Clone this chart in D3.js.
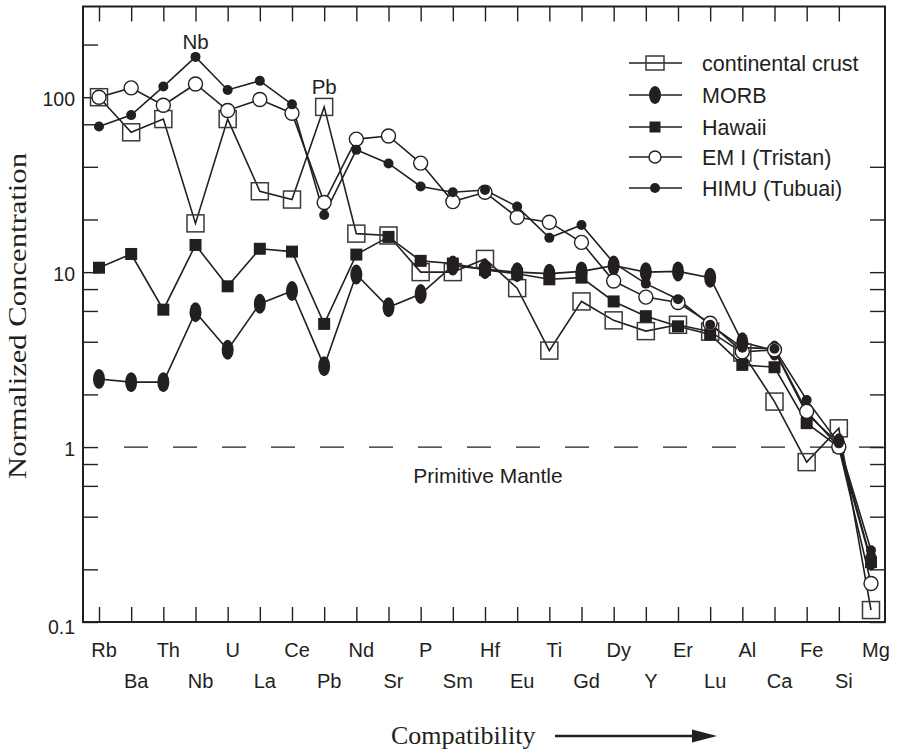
<!DOCTYPE html>
<html>
<head>
<meta charset="utf-8">
<script src="https://cdn.jsdelivr.net/npm/d3@7"></script>
<style>
  html, body { margin: 0; padding: 0; background: #fff; }
  svg { display: block; }
  text { fill: #231f20; }
</style>
</head>
<body>
<div id="chart"></div>
<script>
// ---------- data ----------
const elements = ["Rb","Ba","Th","Nb","U","La","Ce","Pb","Nd","Sr","P","Sm","Hf","Eu","Ti","Gd","Dy","Y","Er","Lu","Al","Ca","Fe","Si","Mg"];

const continentalCrust = [100, 63, 75, 19, 75, 29, 26, 88, 16.6, 16.2, 10, 10, 11.9, 8.1, 3.56, 6.8, 5.3, 4.6, 5.0, 4.57, 3.47, 1.82, 0.82, 1.28, 0.117];
const morb            = [2.45, 2.35, 2.35, 5.9, 3.6, 6.6, 7.8, 2.9, 9.7, 6.3, 7.5, 10.9, 10.4, 10.0, 9.8, 10.1, 10.9, 10.0, 10.1, 9.3, 3.97, 3.56, 1.55, 1.05, 0.225];
const hawaii          = [10.6, 12.7, 6.1, 14.3, 8.3, 13.6, 13.1, 5.06, 12.6, 15.9, 11.6, 11.2, 10.3, 9.8, 9.1, 9.3, 6.8, 5.6, 4.9, 4.4, 2.95, 2.86, 1.37, 1.0, 0.22];
const emI             = [100, 113, 90, 119, 84, 97, 81, 25, 57.6, 60, 42, 25.3, 28.6, 20.6, 19.3, 14.8, 8.9, 7.2, 6.7, 5.1, 3.5, 3.6, 1.6, 1.0, 0.166];
const himu            = [68, 79, 115, 170, 110, 124, 91, 21.2, 50, 41.8, 30.9, 28.6, 29.5, 23.7, 15.7, 18.6, 11.3, 8.6, 7.0, 5.0, 3.7, 3.65, 1.86, 1.05, 0.257];

const seriesNames = ["continental crust", "MORB", "Hawaii", "EM I (Tristan)", "HIMU (Tubuai)"];
const seriesValues = [continentalCrust, morb, hawaii, emI, himu];
const seriesMarkers = ["square", "ellipse", "filledSquare", "openCircle", "dot"];

const yMajorTicks = [0.1, 1, 10, 100];
const yMinorTicksLeft = [0.2, 0.4, 0.6, 0.8, 2, 4, 6, 8, 20, 40, 70, 200];
const yMinorTicksRight = [0.2, 0.4, 0.6, 0.8, 2, 4, 6, 8, 20, 40];
const yTickLabels = ["0.1", "1", "10", "100"];

// ---------- layout ----------
const W = 903, H = 754;
const pLeft = 83, pRight = 885, pTop = 6.5, pBottom = 622;
const ink = "#231f20";
const sans = "'Liberation Sans', Arial, Helvetica, sans-serif";
const serif = "'Liberation Serif', 'Times New Roman', serif";

const svg = d3.select("#chart").append("svg").attr("width", W).attr("height", H);

const x = d3.scalePoint().domain(elements).range([99, 871]);
const y = d3.scaleLog().domain([0.1, 330]).range([pBottom, pTop]);

// dashed primitive mantle line
svg.append("line")
  .attr("x1", pLeft + 41).attr("x2", pRight + 4)
  .attr("y1", y(1)).attr("y2", y(1))
  .attr("stroke", ink).attr("stroke-width", 1.3)
  .attr("stroke-dasharray", "24,25");

// axes (ticks inward)
const tickEls = elements.slice(0, 24);
function clean(g) { g.select(".domain").remove(); g.selectAll(".tick line").attr("stroke", ink).attr("stroke-width", 1.4); g.selectAll(".tick text").remove(); }

svg.append("g").attr("transform", `translate(0,${pBottom})`)
  .call(d3.axisBottom(x).tickValues(tickEls).tickSize(-15).tickFormat(""))
  .call(clean);
svg.append("g").attr("transform", `translate(0,${pTop})`)
  .call(d3.axisTop(x).tickValues(tickEls).tickSize(-15).tickFormat(""))
  .call(clean);
svg.append("g").attr("transform", `translate(${pLeft},0)`)
  .call(d3.axisLeft(y).tickValues(yMajorTicks.concat(yMinorTicksLeft)).tickSize(-15).tickFormat(""))
  .call(clean);
svg.append("g").attr("transform", `translate(${pRight},0)`)
  .call(d3.axisRight(y).tickValues(yMajorTicks.slice(0, 3).concat(yMinorTicksRight)).tickSize(-15).tickFormat(""))
  .call(clean);

// frame
svg.append("rect")
  .attr("x", pLeft).attr("y", pTop)
  .attr("width", pRight - pLeft).attr("height", pBottom - pTop)
  .attr("fill", "none").attr("stroke", ink).attr("stroke-width", 2);

// y tick labels
svg.append("g").selectAll("text").data(yMajorTicks).join("text")
  .attr("x", pLeft - 8)
  .attr("y", (d) => y(d) + (d === 0.1 ? 5 : 2))
  .attr("dy", "0.35em")
  .attr("text-anchor", "end")
  .attr("font-family", sans).attr("font-size", 19.5)
  .text((d, i) => yTickLabels[i]);

// x tick labels (two staggered rows)
svg.append("g").selectAll("text").data(elements).join("text")
  .attr("x", (d) => x(d) + 5)
  .attr("y", (d, i) => i % 2 === 0 ? 657 : 688)
  .attr("text-anchor", "middle")
  .attr("font-family", sans).attr("font-size", 20)
  .text((d) => d);

// axis titles
svg.append("text")
  .attr("transform", `translate(26,316) rotate(-90)`)
  .attr("text-anchor", "middle")
  .attr("font-family", serif).attr("font-size", 26)
  .attr("textLength", 326).attr("lengthAdjust", "spacingAndGlyphs")
  .text("Normalized Concentration");

svg.append("text")
  .attr("x", 391).attr("y", 744)
  .attr("font-family", serif).attr("font-size", 26)
  .text("Compatibility");
svg.append("line")
  .attr("x1", 555).attr("x2", 697).attr("y1", 736).attr("y2", 736)
  .attr("stroke", ink).attr("stroke-width", 2.6);
svg.append("path")
  .attr("d", "M717,736 L692,729.5 L692,742.5 Z")
  .attr("fill", ink);

// ---------- series ----------
const line = d3.line().x((d) => x(d.el)).y((d) => y(d.v));
const data = seriesValues.map((vals, s) => vals.map((v, i) => ({ el: elements[i], v, s })));

const gLines = svg.append("g");
data.forEach((pts) => {
  gLines.append("path").attr("d", line(pts))
    .attr("fill", "none").attr("stroke", ink).attr("stroke-width", 1.6)
    .attr("stroke-linejoin", "miter");
});

function drawMarker(g, type, cx, cy, legend) {
  if (type === "square") {
    const w = legend ? 18 : 17, h = legend ? 14 : 17;
    g.append("rect").attr("x", cx - w / 2).attr("y", cy - h / 2).attr("width", w).attr("height", h)
      .attr("fill", "none").attr("stroke", "#3a3a3a").attr("stroke-width", 1.5);
  } else if (type === "ellipse") {
    g.append("ellipse").attr("cx", cx).attr("cy", cy).attr("rx", 6).attr("ry", legend ? 9 : 10).attr("fill", ink);
  } else if (type === "filledSquare") {
    const s = legend ? 11 : 12;
    g.append("rect").attr("x", cx - s / 2).attr("y", cy - s / 2).attr("width", s).attr("height", s).attr("fill", ink);
  } else if (type === "openCircle") {
    g.append("circle").attr("cx", cx).attr("cy", cy).attr("r", legend ? 6 : 7)
      .attr("fill", "#fff").attr("stroke", ink).attr("stroke-width", 1.4);
  } else if (type === "dot") {
    g.append("circle").attr("cx", cx).attr("cy", cy).attr("r", 5).attr("fill", ink);
  }
}

const gMarks = svg.append("g");
data.forEach((pts, s) => {
  pts.forEach((p) => drawMarker(gMarks, seriesMarkers[s], x(p.el), y(p.v), false));
});

// annotations
svg.append("text").attr("x", x("Nb")).attr("y", y(170) - 8)
  .attr("text-anchor", "middle").attr("font-family", sans).attr("font-size", 20.5).text("Nb");
svg.append("text").attr("x", x("Pb")).attr("y", y(88) - 13)
  .attr("text-anchor", "middle").attr("font-family", sans).attr("font-size", 20.5).text("Pb");
svg.append("text").attr("x", 488).attr("y", y(1) + 36)
  .attr("text-anchor", "middle").attr("font-family", sans).attr("font-size", 21).text("Primitive Mantle");

// legend
const legY = [63, 95, 127, 157, 188];
const gLeg = svg.append("g");
seriesNames.forEach((name, i) => {
  gLeg.append("line").attr("x1", 629).attr("x2", 682).attr("y1", legY[i]).attr("y2", legY[i])
    .attr("stroke", ink).attr("stroke-width", 1.6);
  drawMarker(gLeg, seriesMarkers[i], 655, legY[i], true);
  gLeg.append("text").attr("x", 702).attr("y", legY[i]).attr("dy", "0.35em")
    .attr("font-family", sans).attr("font-size", 21.5).text(name);
});
</script>
</body>
</html>
